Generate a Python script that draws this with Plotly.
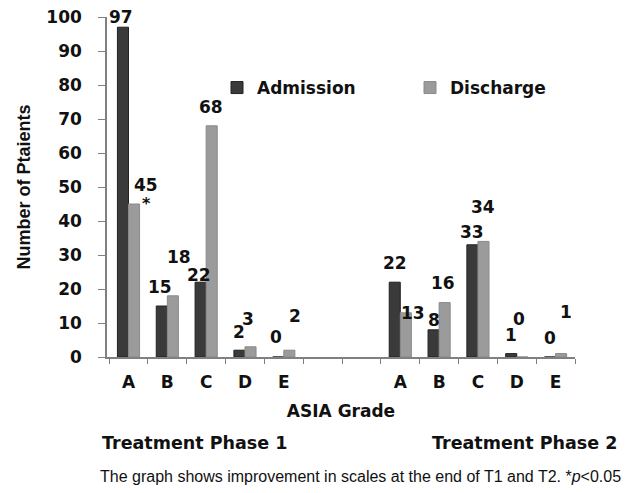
import plotly.graph_objects as go

# ---- data ----
categories = ["A1", "B1", "C1", "D1", "E1", "gap1", "gap2", "A2", "B2", "C2", "D2", "E2"]
tick_labels = ["A", "B", "C", "D", "E", "", "", "A", "B", "C", "D", "E"]
admission = [97, 15, 22, 2, 0, None, None, 22, 8, 33, 1, 0]
discharge = [45, 18, 68, 3, 2, None, None, 13, 16, 34, 0, 1]

# label offsets (px) relative to category centre / bar top, to mimic the original placement
adm_dx = [-7.5, -7.5, -7, -5.5, -8, 0, 0, -5, -5, -5.5, -6, -6]
adm_dy = [10, 19, 7, 18, 20, 0, 0, 19, 10, 13, 19, 19]
dis_dx = [17, 11.5, 5, 3.5, 11, 0, 0, 13, 4, 5.5, 2, 10]
dis_dy = [19, 39, 19, 28, 34, 0, 0, 0, 20, 34, 38, 42]

FONT = "DejaVu Sans"
NARROW = "Liberation Sans Narrow, Liberation Sans, Arial Narrow, sans-serif"
BOLD = dict(family=FONT, size=17, color="#111", weight="bold")

fig = go.Figure()
fig.add_trace(go.Bar(x=categories, y=admission, name="Admission", legend="legend",
                     marker=dict(color="#3a3a3a", line=dict(color="#222222", width=1))))
fig.add_trace(go.Bar(x=categories, y=discharge, name="Discharge", legend="legend2",
                     marker=dict(color="#9b9b9b", line=dict(color="#8a8a8a", width=1))))

annotations = []
for i, c in enumerate(categories):
    if admission[i] is not None:
        annotations.append(dict(x=c, y=admission[i], xref="x", yref="y", text=str(admission[i]),
                                showarrow=False, xshift=adm_dx[i], yshift=adm_dy[i],
                                xanchor="center", yanchor="middle", font=BOLD))
    if discharge[i] is not None:
        annotations.append(dict(x=c, y=discharge[i], xref="x", yref="y", text=str(discharge[i]),
                                showarrow=False, xshift=dis_dx[i], yshift=dis_dy[i],
                                xanchor="center", yanchor="middle", font=BOLD))
# significance marker on Phase 1 discharge A
annotations.append(dict(x=categories[0], y=discharge[0], xref="x", yref="y", text="*",
                        showarrow=False, xshift=18, yshift=1, xanchor="center", yanchor="middle",
                        font=dict(family=FONT, size=16, color="#111", weight="bold")))

PHASE = dict(family=FONT, size=17.5, color="#111", weight="bold")
paper_notes = [
    dict(x=194, y=443, text="Treatment Phase 1", font=PHASE),
    dict(x=524, y=443, text="Treatment Phase 2", font=PHASE),
    dict(x=360, y=476,
         text="The graph shows improvement in scales at the end of T1 and T2. *<i>p</i><0.05",
         font=dict(family=NARROW, size=16, color="#111")),
]

# page body adds an 8px margin; work in target-pixel coordinates and compensate
OFF = 8
W, H = 636, 493
PLOT_L, PLOT_R, PLOT_T, PLOT_B = 107, 575, 17, 357      # target plot-area edges (px)
L, T = PLOT_L - OFF, PLOT_T - OFF
R, B = W - (PLOT_R - OFF), H - (PLOT_B - OFF)
pw, ph = PLOT_R - PLOT_L, PLOT_B - PLOT_T


def px(xp):
    return (xp - PLOT_L) / pw


def py(yp):
    return (PLOT_B - yp) / ph


for a in paper_notes:
    annotations.append(dict(x=px(a["x"]), y=py(a["y"]),
                            xref="paper", yref="paper", text=a["text"], showarrow=False,
                            xanchor="center", yanchor="middle", font=a["font"]))

legend_common = dict(orientation="h", yanchor="middle", xanchor="left",
                     font=BOLD, bgcolor="rgba(0,0,0,0)")

fig.update_layout(
    width=W, height=H,
    margin=dict(l=L, r=R, t=T, b=B, pad=0, autoexpand=False),
    paper_bgcolor="white", plot_bgcolor="white",
    barmode="group", bargap=0.43, bargroupgap=0,
    showlegend=True,
    legend=dict(x=px(217), y=py(88), **legend_common),
    legend2=dict(x=px(410), y=py(88), **legend_common),
    annotations=annotations,
    xaxis=dict(categoryorder="array", categoryarray=categories,
               tickmode="array", tickvals=categories, ticktext=tick_labels,
               tickson="boundaries", ticks="outside", ticklen=5, tickcolor="#808080",
               showline=True, linecolor="#808080", linewidth=1.5, automargin=False,
               showgrid=False, zeroline=False, ticklabelstandoff=9,
               ticklabeloverflow="allow",
               tickfont=BOLD,
               title=dict(text="ASIA Grade", standoff=14, font=BOLD)),
    yaxis=dict(range=[0, 100], tickvals=list(range(0, 101, 10)),
               ticks="outside", ticklen=7, tickcolor="#808080",
               showline=True, linecolor="#808080", linewidth=1.5, automargin=False,
               showgrid=False, zeroline=False, ticklabelstandoff=13,
               ticklabeloverflow="allow",
               tickfont=BOLD,
               title=dict(text="Number of Ptaients", standoff=11,
                          font=dict(family=NARROW, size=18, color="#111", weight="bold"))),
)

fig.write_html("out.html")
